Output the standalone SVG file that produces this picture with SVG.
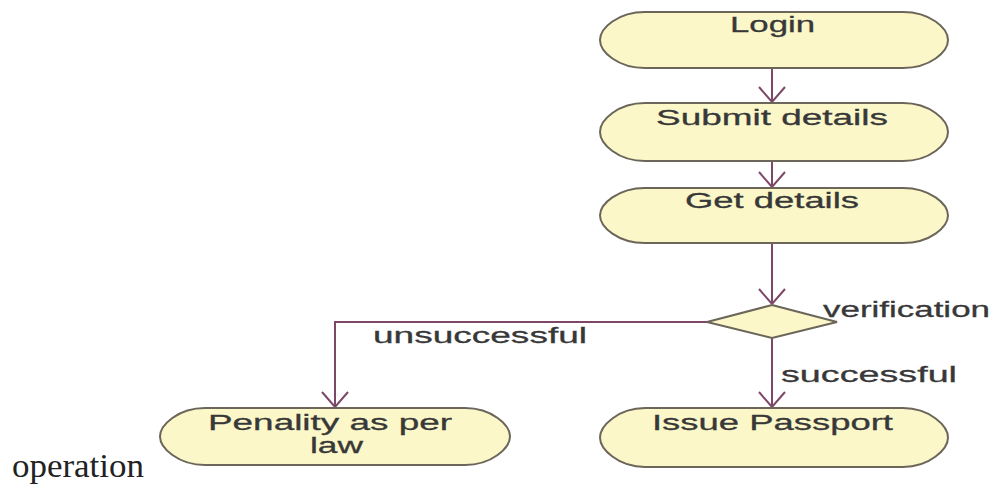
<svg xmlns="http://www.w3.org/2000/svg" width="995" height="491" viewBox="0 0 995 491">
<style>
.node{fill:#fbf7c9;stroke:#6b655a;stroke-width:2}
.lbl{font-family:"Liberation Sans",Arial,sans-serif;font-size:22px;fill:#383838;stroke:#383838;stroke-width:0.3}
.conn{fill:none;stroke:#7d4868;stroke-width:2}
</style>
<defs>
<marker id="arr" markerUnits="userSpaceOnUse" markerWidth="40" markerHeight="40" refX="0" refY="0" orient="auto" viewBox="-20 -20 40 40" overflow="visible">
<path d="M-15,-13 L0,0 L-15,13" fill="none" stroke="#7d4868" stroke-width="2"/>
</marker>
</defs>
<rect width="995" height="491" fill="#ffffff"/>
<g id="connectors">
<line class="conn" x1="772" y1="68" x2="772" y2="102" marker-end="url(#arr)"/>
<line class="conn" x1="772" y1="161" x2="772" y2="187" marker-end="url(#arr)"/>
<line class="conn" x1="772" y1="243" x2="772" y2="304" marker-end="url(#arr)"/>
<polyline class="conn" points="707,322 335,322 335,407" marker-end="url(#arr)"/>
<line class="conn" x1="772" y1="338" x2="772" y2="407" marker-end="url(#arr)"/>
<text class="lbl" x="373" y="343" textLength="214" lengthAdjust="spacingAndGlyphs">unsuccessful</text>
<text class="lbl" x="781" y="382" textLength="176" lengthAdjust="spacingAndGlyphs">successful</text>
</g>
<g id="login">
<path class="node" d="M645,12 H903 C930,12 948,28 948,40 C948,52 930,68 903,68 H645 C618,68 600,52 600,40 C600,28 618,12 645,12 Z"/>
<text class="lbl" x="730" y="32" textLength="85" lengthAdjust="spacingAndGlyphs">Login</text>
</g>
<g id="submit">
<path class="node" d="M645,103 H903 C930,103 948,120 948,132 C948,144 930,161 903,161 H645 C618,161 600,144 600,132 C600,120 618,103 645,103 Z"/>
<text class="lbl" x="656" y="125" textLength="232" lengthAdjust="spacingAndGlyphs">Submit details</text>
</g>
<g id="get">
<path class="node" d="M645,188 H903 C930,188 948,204 948,215.5 C948,227 930,243 903,243 H645 C618,243 600,227 600,215.5 C600,204 618,188 645,188 Z"/>
<text class="lbl" x="685" y="208" textLength="174" lengthAdjust="spacingAndGlyphs">Get details</text>
</g>
<g id="verification">
<polygon class="node" points="772,305 837,322 772,338 707,322"/>
<text class="lbl" x="823" y="317" textLength="167" lengthAdjust="spacingAndGlyphs">verification</text>
</g>
<g id="penality">
<path class="node" d="M205,408 H465 C492,408 510,425 510,436.5 C510,448 492,465 465,465 H205 C178,465 160,448 160,436.5 C160,425 178,408 205,408 Z"/>
<text class="lbl" x="208" y="430" textLength="244" lengthAdjust="spacingAndGlyphs">Penality as per</text>
<text class="lbl" x="310" y="453" textLength="53" lengthAdjust="spacingAndGlyphs">law</text>
</g>
<g id="issue">
<path class="node" d="M645,408 H903 C930,408 948,426 948,437.5 C948,449 930,467 903,467 H645 C618,467 600,449 600,437.5 C600,426 618,408 645,408 Z"/>
<text class="lbl" x="652" y="430" textLength="241" lengthAdjust="spacingAndGlyphs">Issue Passport</text>
</g>
<text x="12" y="477" font-family="'Liberation Serif','Times New Roman',serif" font-size="34" fill="#222222" textLength="132" lengthAdjust="spacingAndGlyphs">operation</text>
</svg>
